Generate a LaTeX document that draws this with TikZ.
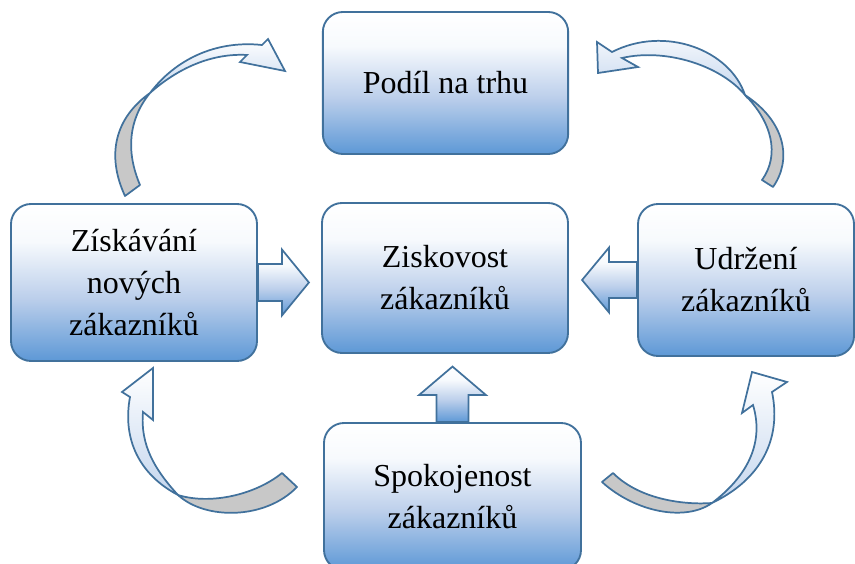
\documentclass[tikz,border=0pt]{standalone}
\usepackage{fontspec}
\setmainfont{Liberation Serif}
\usetikzlibrary{calc}
\definecolor{edgeblue}{RGB}{65,113,156}
\definecolor{boxblue}{RGB}{93,152,214}
\definecolor{boxmid}{RGB}{188,207,235}
\definecolor{arrowblue}{RGB}{196,214,238}
\definecolor{backgray}{RGB}{200,200,200}
\pgfdeclareverticalshading{boxfade}{100bp}{color(0bp)=(boxblue); color(25bp)=(boxblue); color(45bp)=(boxmid); color(63bp)=(white!95!boxblue); color(75bp)=(white); color(100bp)=(white)}
\tikzset{
  stepbox/.style={draw=edgeblue, line width=1.4pt, rounded corners=15pt, shade, shading=boxfade,
    align=center, inner sep=0pt, font=\fontsize{24}{31.5}\selectfont},
  blockarrow/.style={draw=edgeblue, line width=1.3pt, shade, shading=boxfade, line join=miter},
  curvefront/.style={draw=edgeblue, line width=1.3pt, top color=white, bottom color=arrowblue, line join=miter},
  curveback/.style={draw=edgeblue, line width=1.3pt, fill=backgray, line join=round}
}
\begin{document}
\begin{tikzpicture}[x=0.75pt,y=-0.75pt]
\useasboundingbox (0,0) rectangle (855,563);
%%% the five boxes
\node[stepbox, minimum width=184pt, minimum height=106.5pt] (podil) at (445.5,83) {Podíl na trhu};
\node[stepbox, minimum width=184.5pt, minimum height=117.75pt] (ziskani) at (134,282.5) {Získávání\\nových\\zákazníků};
\node[stepbox, minimum width=184.5pt, minimum height=112.5pt] (ziskovost) at (445,278) {Ziskovost\\zákazníků};
\node[stepbox, minimum width=162pt, minimum height=114pt] (udrzeni) at (746,280) {Udržení\\zákazníků};
\node[stepbox, minimum width=192.75pt, minimum height=110.25pt] (spokoj) at (452.5,496.5) {Spokojenost\\zákazníků};
%
%%% block arrows into the middle box
\draw[blockarrow] (ziskani.east) ++(0,-18.5) -- ++(24,0) -- ++(0,-14.5) -- ++(27,33)
  -- ++(-27,33) -- ++(0,-14.5) -- ++(-24,0) -- cycle;
\draw[blockarrow] (udrzeni.west) ++(0,-18) -- ++(-28,0) -- ++(0,-14.5) -- ++(-27,32.5)
  -- ++(27,32.5) -- ++(0,-14.5) -- ++(28,0) -- cycle;
\draw[blockarrow] (spokoj.north) ++(-16,0) -- ++(0,-27) -- ++(-17.5,0) -- ++(33.5,-28.5)
  -- ++(33.5,28.5) -- ++(-17.5,0) -- ++(0,27) -- cycle;
%
%%% curved arrows, top left
\draw[curveback] (125,196) .. controls (106,155) and (115,118) .. (150,93)
  .. controls (128,120) and (126,152) .. (140,185) -- cycle;
\draw[curvefront] (150,93) .. controls (175,60) and (215,40) .. (262,45) -- (268,39) -- (285,71)
  -- (240,62) -- (247,55) .. controls (212,53) and (178,68) .. (150,93) -- cycle;
%%% top right
\draw[curveback] (773,187) .. controls (792,160) and (786,122) .. (745,95)
  .. controls (772,122) and (780,155) .. (762,180) -- cycle;
\draw[curvefront] (745,95) .. controls (730,50) and (665,25) .. (612,52) -- (597,42) -- (598,73)
  -- (638,67) -- (622,58) .. controls (665,48) and (720,65) .. (745,95) -- cycle;
%%% bottom left
\draw[curveback] (178,495) .. controls (205,520) and (265,520) .. (297,487) -- (282,473)
  .. controls (255,495) and (210,505) .. (178,495) -- cycle;
\draw[curvefront] (178,495) .. controls (140,475) and (122,440) .. (130,397) -- (122,392) -- (153,368)
  -- (153,420) -- (143,412) .. controls (140,445) and (155,470) .. (178,495) -- cycle;
%%% bottom right
\draw[curveback] (602,482) .. controls (635,512) and (685,522) .. (712,503)
  .. controls (685,505) and (640,500) .. (613,473) -- cycle;
\draw[curvefront] (712,503) .. controls (760,480) and (782,440) .. (772,392) -- (787,382) -- (752,372)
  -- (742,413) -- (753,405) .. controls (765,445) and (745,478) .. (712,503) -- cycle;
\end{tikzpicture}
\end{document}
